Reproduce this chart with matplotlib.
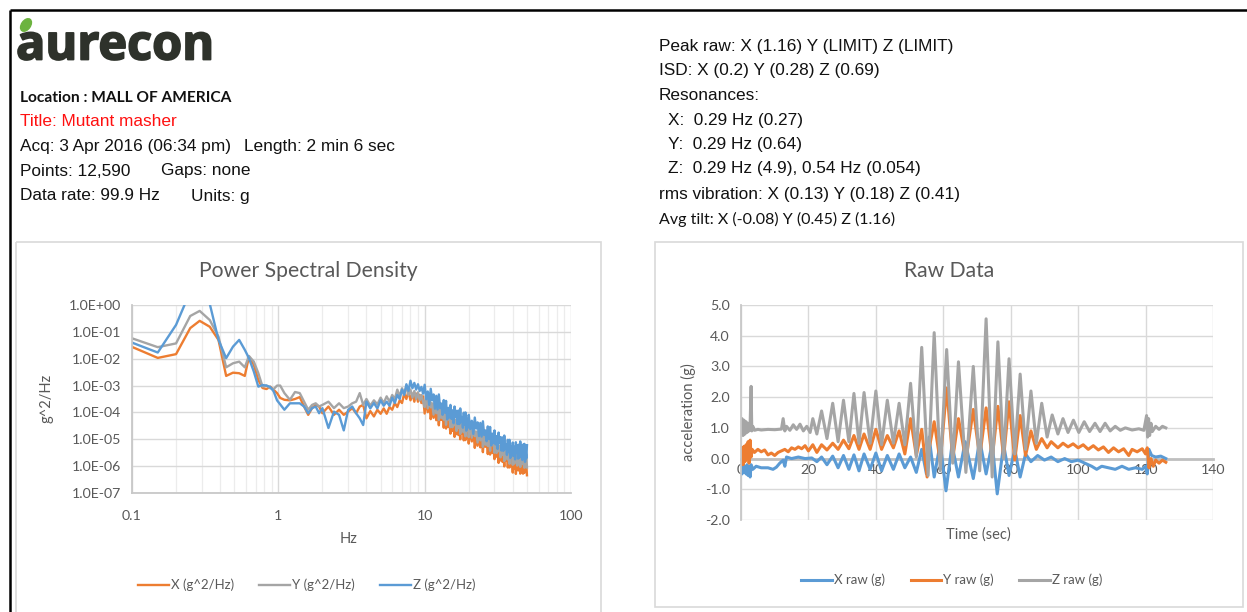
import numpy as np
import matplotlib
matplotlib.use("Agg")
import matplotlib.pyplot as plt
import matplotlib.patheffects as pe
from matplotlib.patches import Rectangle, Ellipse
from matplotlib.ticker import FixedLocator, FixedFormatter, NullFormatter

plt.rcParams['font.family'] = ['Lato', 'DejaVu Sans']
plt.rcParams['axes.unicode_minus'] = False

W, H = 1247, 612

# ---------------- header text ----------------
left_info = ["Location : MALL OF AMERICA", "Title: Mutant masher",
             "Acq: 3 Apr 2016 (06:34 pm)", "Length: 2 min 6 sec",
             "Points: 12,590", "Gaps: none", "Data rate: 99.9 Hz", "Units: g"]
right_info = ["Peak raw: X (1.16) Y (LIMIT) Z (LIMIT)",
              "ISD: X (0.2) Y (0.28) Z (0.69)",
              "Resonances:",
              "X:  0.29 Hz (0.27)",
              "Y:  0.29 Hz (0.64)",
              "Z:  0.29 Hz (4.9), 0.54 Hz (0.054)",
              "rms vibration: X (0.13) Y (0.18) Z (0.41)",
              "Avg tilt: X (-0.08) Y (0.45) Z (1.16)"]

# ---------------- PSD data (values read as log10 exponents) ----------------
psd_freq_low = [0.10, 0.15, 0.20, 0.25, 0.29, 0.34, 0.39, 0.44, 0.49, 0.54, 0.59, 0.63, 0.68, 0.73, 0.78,
                0.83, 0.88, 0.93, 0.98,
                1.03, 1.1, 1.2, 1.3, 1.4, 1.5, 1.6, 1.7, 1.8, 1.9, 2.0, 2.2, 2.4, 2.6, 2.8, 3.0, 3.2, 3.4, 3.6, 3.8,
                4.0, 4.25, 4.5, 4.75, 5.0, 5.25, 5.5, 5.75, 6.0, 6.25, 6.5, 6.75, 7.0, 7.25, 7.5, 7.75, 8.0, 8.25,
                8.5, 8.75, 9.0, 9.25, 9.5, 9.75]
psd_freq_high = [10.0, 10.25, 10.5, 10.75, 11.0, 11.25, 11.5, 11.75, 12.0, 12.25,
                 12.5, 12.75, 13.0, 13.25, 13.5, 13.75, 14.0, 14.25, 14.5, 14.75,
                 15.0, 15.25, 15.5, 15.75, 16.0, 16.25, 16.5, 16.75, 17.0, 17.25,
                 17.5, 17.75, 18.0, 18.25, 18.5, 18.75, 19.0, 19.25, 19.5, 19.75,
                 20.0, 20.5, 21.0, 21.5, 22.0, 22.5, 23.0, 23.5, 24.0, 24.5,
                 25.0, 25.5, 26.0, 26.5, 27.0, 27.5, 28.0, 28.5, 29.0, 29.5,
                 30.0, 30.5, 31.0, 31.5, 32.0, 32.5, 33.0, 33.5, 34.0, 34.5,
                 35.0, 35.5, 36.0, 36.5, 37.0, 37.5, 38.0, 38.5, 39.0, 39.5,
                 40.0, 40.5, 41.0, 41.5, 42.0, 42.5, 43.0, 43.5, 44.0, 44.5,
                 45.0, 45.5, 46.0, 46.5, 47.0, 47.5, 48.0, 48.5, 49.0, 49.5, 50.0]

psd_x_exp_low = [-1.56, -1.97, -1.83, -0.86, -0.59, -0.81, -1.30, -2.64, -2.52, -2.54, -2.64, -1.92, -2.23, -2.79, -3.09,
                 -3.13, -3.04, -3.16, -3.28,
                 -3.46, -3.53, -3.55, -3.50, -3.43, -3.78, -4.09, -3.84, -3.72, -3.78, -4.03, -3.78, -4.09, -3.90, -4.09,
                 -3.97, -3.84, -4.03, -3.78, -3.72,
                 -4.22, -3.95, -4.15, -3.90, -4.05, -3.85, -4.05, -3.80, -3.90, -3.65, -3.80, -3.55, -3.65, -3.30, -3.50,
                 -3.20, -3.55, -3.30, -3.60, -3.30, -3.60, -3.35, -3.65, -3.40]
psd_x_exp_high = [-4.04, -3.50, -3.99, -3.55, -4.25, -3.84, -4.20, -3.75, -4.29, -3.98,
                  -4.48, -3.87, -4.28, -4.06, -4.57, -4.08, -4.60, -4.03, -4.54, -4.38,
                  -4.79, -4.23, -4.69, -4.23, -4.91, -4.47, -4.81, -4.32, -4.84, -4.52,
                  -5.00, -4.38, -4.78, -4.54, -5.04, -4.53, -5.03, -4.45, -4.95, -4.76,
                  -5.16, -4.61, -5.08, -4.63, -5.32, -4.89, -5.24, -4.77, -5.30, -4.99,
                  -5.48, -4.87, -5.28, -5.04, -5.55, -5.06, -5.57, -5.00, -5.50, -5.33,
                  -5.74, -5.18, -5.65, -5.19, -5.88, -5.44, -5.79, -5.31, -5.84, -5.52,
                  -6.01, -5.39, -5.79, -5.55, -6.05, -5.55, -6.05, -5.47, -5.97, -5.79,
                  -6.24, -5.66, -6.10, -5.63, -6.29, -5.83, -6.15, -5.66, -6.16, -5.82,
                  -6.28, -5.65, -6.04, -5.79, -6.28, -5.76, -6.25, -5.66, -6.15, -5.95, -6.34]

psd_y_exp_low = [-1.24, -1.57, -1.43, -0.41, -0.22, -0.56, -1.18, -2.32, -2.17, -2.11, -2.32, -1.90, -2.11, -2.54, -3.04,
                 -3.00, -3.10, -3.13, -3.00,
                 -3.00, -3.28, -3.53, -3.24, -3.28, -3.60, -3.90, -3.72, -3.66, -3.78, -3.72, -3.60, -3.84, -3.66, -3.84,
                 -3.78, -3.66, -3.60, -3.28, -3.72,
                 -3.50, -3.75, -3.55, -3.70, -3.45, -3.65, -3.40, -3.60, -3.35, -3.50, -3.15, -3.40, -3.10, -3.30, -3.05,
                 -3.35, -3.15, -3.45, -3.20, -3.50, -3.25, -3.55, -3.35, -3.60]
psd_y_exp_high = [-3.80, -3.32, -3.85, -3.29, -3.81, -3.66, -4.08, -3.55, -4.03, -3.58,
                  -4.28, -3.85, -4.20, -3.74, -4.27, -3.96, -4.46, -3.85, -4.26, -4.04,
                  -4.55, -4.05, -4.55, -3.97, -4.47, -4.29, -4.69, -4.12, -4.58, -4.12,
                  -4.80, -4.36, -4.70, -4.22, -4.74, -4.41, -4.89, -4.27, -4.67, -4.42,
                  -4.92, -4.43, -4.94, -4.37, -4.88, -4.71, -5.12, -4.57, -5.04, -4.59,
                  -5.28, -4.85, -5.20, -4.72, -5.25, -4.94, -5.43, -4.82, -5.22, -4.99,
                  -5.50, -5.00, -5.51, -4.93, -5.44, -5.26, -5.67, -5.11, -5.58, -5.12,
                  -5.81, -5.37, -5.71, -5.23, -5.75, -5.43, -5.91, -5.29, -5.69, -5.45,
                  -5.95, -5.43, -5.91, -5.32, -5.80, -5.60, -5.98, -5.41, -5.85, -5.37,
                  -6.03, -5.58, -5.91, -5.42, -5.93, -5.59, -6.06, -5.43, -5.82, -5.56, -6.05]

psd_z_exp_low = [-1.40, -1.77, -0.74, 0.50, 0.69, 0.04, -1.30, -1.98, -1.55, -1.30, -1.67, -1.98, -2.48, -3.04, -2.98,
                 -3.00, -3.05, -3.22, -3.55,
                 -3.70, -3.90, -3.66, -3.66, -3.66, -3.78, -4.03, -3.84, -3.78, -4.03, -3.84, -4.58, -3.97, -4.09, -4.67,
                 -3.90, -3.78, -4.03, -4.22, -4.47,
                 -3.60, -3.85, -3.65, -3.85, -3.55, -3.75, -3.60, -3.75, -3.45, -3.65, -3.35, -3.50, -3.15, -3.35, -2.95,
                 -3.20, -2.82, -3.10, -2.90, -3.15, -2.95, -3.20, -3.05, -3.30]
psd_z_exp_high = [-2.97, -3.51, -3.22, -3.72, -3.12, -3.55, -3.33, -3.86, -3.38, -3.89,
                  -3.33, -3.84, -3.67, -4.09, -3.54, -4.01, -3.57, -4.26, -3.83, -4.19,
                  -3.72, -4.24, -3.92, -4.40, -3.78, -4.18, -3.94, -4.43, -3.93, -4.43,
                  -3.85, -4.35, -4.17, -4.57, -4.01, -4.46, -4.00, -4.68, -4.24, -4.57,
                  -4.09, -4.62, -4.31, -4.80, -4.19, -4.60, -4.37, -4.88, -4.39, -4.90,
                  -4.33, -4.84, -4.67, -5.07, -4.52, -4.99, -4.54, -5.23, -4.79, -5.14,
                  -4.67, -5.19, -4.88, -5.36, -4.75, -5.15, -4.92, -5.42, -4.93, -5.43,
                  -4.86, -5.36, -5.18, -5.58, -5.02, -5.48, -5.02, -5.70, -5.26, -5.60,
                  -5.12, -5.62, -5.28, -5.75, -5.11, -5.49, -5.23, -5.72, -5.20, -5.68,
                  -5.08, -5.57, -5.38, -5.77, -5.20, -5.64, -5.17, -5.84, -5.39, -5.71, -5.22]

psd_labels = ["X (g^2/Hz)", "Y (g^2/Hz)", "Z (g^2/Hz)"]
psd_xtick_labels = ["0.1", "1", "10", "100"]
psd_ytick_labels = ["1.0E-07", "1.0E-06", "1.0E-05", "1.0E-04", "1.0E-03", "1.0E-02", "1.0E-01", "1.0E+00"]

# ---------------- Raw data ----------------
t_zraw = [0.0, 0.3, 0.6, 0.9, 1.2, 1.5, 1.8, 2.1, 2.4, 2.7, 3.0, 3.2, 3.5, 4.0, 5.0, 6.0, 8.0, 10.0, 12.0, 12.5, 13.0,
          13.5, 14.5, 15.5, 16.5, 17.5, 18.5, 19.5, 20.5, 21.3, 22.5, 23.9, 25.5, 27.2, 28.8, 30.4, 32.0, 33.5, 35.0,
          36.5, 38.3, 40.0, 41.7, 43.4, 45.2, 46.9, 48.6, 50.3, 52.0, 53.6, 55.5, 57.3, 59.1, 61.0, 62.8, 64.5, 66.7,
          68.9, 70.8, 72.7, 74.5, 76.2, 77.9, 79.5, 81.2, 82.8, 84.4, 86.0, 87.6, 89.2, 90.8, 92.3, 94.0, 95.5, 97.0,
          98.6, 100.2, 101.8, 103.4, 105.0, 106.5, 108.0, 109.5, 111.0, 112.5, 114.0, 116.0, 118.0, 119.5, 120.3, 120.6,
          120.9, 121.2, 121.6, 122.0, 123.0, 124.0, 125.0, 126.0]
z_raw = [1.0, 1.3, 0.75, 1.25, 0.8, 1.2, 0.85, 1.15, 0.9, 1.1, 2.35, 0.9, 1.05, 0.92, 0.95, 0.93, 0.95, 0.94, 0.96, 1.3, 0.9,
         1.05, 0.92, 1.1, 0.95, 1.12, 0.9, 1.05, 0.85, 1.3, 0.8, 1.55, 0.65, 1.8, 0.55, 1.9, 0.55, 2.12, 0.5,
         2.15, 0.5, 2.2, 0.45, 1.9, 0.5, 1.8, 0.45, 2.45, 0.05, 3.62, -0.55, 4.1, -0.4, 3.55, -0.15, 3.15, -0.45,
         3.0, -0.4, 4.55, -0.6, 3.8, 0.0, 3.25, 0.15, 2.75, 0.3, 2.2, 0.5, 1.8, 0.7, 1.42, 0.8, 1.3, 0.85,
         1.25, 0.85, 1.2, 0.88, 1.15, 0.88, 1.15, 0.9, 1.05, 0.92, 1.0, 0.93, 0.97, 0.92, 1.4, 0.7,
         1.3, 0.75, 1.15, 0.88, 1.05, 0.95, 1.05, 1.0]

t_yraw = [0.0, 0.3, 0.6, 0.9, 1.2, 1.5, 1.8, 2.1, 2.4, 2.7, 3.0, 3.3, 4.0, 5.0, 6.0, 7.0, 8.0, 9.0, 10.0, 11.0, 12.0,
          13.0, 14.0, 15.0, 16.0, 17.0, 18.0, 19.0, 20.0, 21.3, 22.5, 23.9, 25.5, 27.2, 28.8, 30.4, 32.0, 33.5, 35.0,
          36.5, 38.3, 40.0, 41.7, 43.4, 45.2, 46.9, 48.6, 50.3, 52.0, 53.6, 55.2, 55.6, 57.3, 59.1, 61.0, 62.8, 64.5,
          66.7, 68.9, 70.8, 72.7, 74.5, 76.2, 77.9, 79.5, 81.2, 82.8, 84.4, 86.0, 87.6, 89.2, 90.8, 92.0, 94.0, 95.5,
          97.0, 98.5, 100.0, 101.5, 103.0, 104.5, 106.0, 107.5, 109.0, 110.5, 112.0, 113.5, 115.0, 116.0, 117.5, 119.0,
          120.0, 120.5, 121.0, 121.6, 122.3, 123.0, 124.0, 125.0, 126.0]
y_raw = [-0.1, 0.35, -0.2, 0.4, -0.1, 0.45, 0.0, 0.55, -0.15, 0.6, 0.05, 0.3, 0.2, 0.3, 0.22, 0.28, 0.12, 0.18, 0.1, 0.2, 0.25,
         0.3, 0.22, 0.35, 0.3, 0.38, 0.32, 0.42, 0.25, 0.45, 0.2, 0.45, 0.28, 0.5, 0.3, 0.6, 0.32, 0.75, 0.3,
         0.8, 0.3, 0.95, 0.3, 0.75, 0.35, 0.9, 0.15, 1.3, 0.1, 0.95, -0.6, 0.2, 1.2, -0.1, 2.3, 0.0, 1.3,
         -0.05, 1.6, 0.05, 1.65, 0.0, 1.7, 0.05, 1.85, -0.05, 1.4, 0.1, 0.9, 0.3, 0.65, 0.35, 0.55, 0.35, 0.5,
         0.38, 0.48, 0.35, 0.45, 0.3, 0.42, 0.28, 0.38, 0.2, 0.35, 0.22, 0.32, 0.1, 0.3, 0.22, 0.32,
         0.15, 0.35, -0.3, 0.0, -0.25, -0.05, -0.15, -0.05, -0.12]

t_xraw = [0.0, 0.3, 0.6, 0.9, 1.2, 1.5, 1.8, 2.1, 2.4, 2.7, 3.0, 3.5, 4.5, 6.0, 8.0, 9.5, 10.5, 11.5, 12.5, 13.0, 13.5,
          15.0, 17.0, 19.0, 21.0, 22.5, 23.9, 25.5, 27.2, 28.8, 30.4, 32.0, 33.5, 35.0, 36.5, 38.3, 40.0, 41.7, 43.4,
          45.2, 46.9, 48.6, 50.3, 52.0, 53.6, 55.0, 55.8, 57.3, 59.1, 60.8, 62.6, 64.5, 66.5, 68.9, 70.8, 72.7, 74.5,
          76.0, 77.9, 79.5, 81.2, 82.8, 84.4, 86.0, 88.0, 90.0, 92.0, 94.0, 96.0, 98.0, 100.0, 102.0, 104.0, 105.5,
          107.0, 109.0, 111.0, 113.0, 115.0, 117.0, 119.0, 120.0, 120.5, 121.0, 121.8, 123.0, 124.5, 126.0]
x_raw = [-0.2, -0.5, -0.1, -0.45, -0.25, -0.5, -0.2, -0.55, -0.25, -0.6, -0.2, -0.35, -0.25, -0.3, -0.3, -0.35, -0.28, -0.15, -0.05, -0.25, 0.05,
         0.0, 0.05, 0.0, 0.02, -0.1, 0.05, -0.2, 0.08, -0.3, 0.1, -0.35, 0.12, -0.4, 0.15, -0.35, 0.18, -0.4, 0.1,
         -0.35, 0.15, -0.3, 0.05, -0.45, 0.3, -0.5, 0.7, -0.6, 0.5, -1.05, 0.45, -0.6, 0.55, -0.65, 0.6, -0.5, 0.5,
         -1.15, 0.45, -0.55, 0.3, -0.6, 0.15, -0.1, 0.1, -0.05, 0.05, -0.1, 0.0, -0.1, -0.05, -0.15, -0.25, -0.35,
         -0.25, -0.3, -0.35, -0.25, -0.35, -0.3, -0.35, -0.25, -0.5, 0.3, 0.1, 0.05, 0.08, 0.0]

raw_labels = ["X raw (g)", "Y raw (g)", "Z raw (g)"]
raw_xticks = [0, 20, 40, 60, 80, 100, 120, 140]
raw_yticks = [-2.0, -1.0, 0.0, 1.0, 2.0, 3.0, 4.0, 5.0]

C_ORANGE = "#ED7D31"
C_GRAY = "#A5A5A5"
C_BLUE = "#5B9BD5"
TXT = "#595959"
GRID = "#d9d9d9"
HDR = "#111111"


def fx(x):
    return x / W


def fy(y):
    return 1 - y / H


fig = plt.figure(figsize=(W / 100, H / 100), dpi=100)
fig.patch.set_facecolor("white")

# overlay axes in pixel coordinates for frame, boxes and logo leaf
ov = fig.add_axes([0, 0, 1, 1], zorder=-5)
ov.set_xlim(0, W)
ov.set_ylim(H, 0)
ov.axis("off")
ov.plot([10, 1247], [10, 10], color="black", lw=1.8, solid_capstyle="butt")
ov.plot([10, 10], [10, 612], color="black", lw=1.8, solid_capstyle="butt")
ov.add_patch(Rectangle((16, 242), 601 - 16, 380, fill=False, edgecolor="#d9d9d9", lw=1.2))
ov.add_patch(Rectangle((655, 242), 1243 - 655, 365, fill=False, edgecolor="#d9d9d9", lw=1.2))
ov.add_patch(Ellipse((26, 25), 9, 14, angle=35, color="#6cb33f"))

# logo
logo_color = "#2e322b"
fig.text(fx(16), fy(47), "aurecon", fontsize=35, fontweight="bold", color=logo_color,
         family=["Open Sans", "DejaVu Sans"], va="center", ha="left",
         path_effects=[pe.withStroke(linewidth=1.3, foreground=logo_color)])

# left info
fs = 12.4
SANS = ["Liberation Sans", "DejaVu Sans"]
fig.text(fx(20), fy(98), left_info[0], fontsize=11.2, fontweight="bold", color=HDR,
         family=["Lato", "DejaVu Sans"], va="center")
fig.text(fx(20), fy(122), left_info[1], fontsize=fs, color="#ff1010", family=SANS, va="center")
fig.text(fx(20), fy(146), left_info[2], fontsize=fs, color=HDR, family=SANS, va="center")
fig.text(fx(244), fy(146), left_info[3], fontsize=fs, color=HDR, family=SANS, va="center")
fig.text(fx(20), fy(171), left_info[4], fontsize=fs, color=HDR, family=SANS, va="center")
fig.text(fx(161), fy(171), left_info[5], fontsize=fs, color=HDR, family=SANS, va="center")
fig.text(fx(20), fy(196), left_info[6], fontsize=fs, color=HDR, family=SANS, va="center")
fig.text(fx(191), fy(196), left_info[7], fontsize=fs, color=HDR, family=SANS, va="center")

# right info
ry = [46, 70, 95, 120, 144, 169, 194, 219]
rx = [659, 659, 659, 668, 668, 668, 659, 659]
for i, s in enumerate(right_info):
    if i == 7:
        fig.text(fx(rx[i]), fy(ry[i]), s, fontsize=11.5, color=HDR,
                 family=["Lato", "DejaVu Sans"], va="center")
    else:
        fig.text(fx(rx[i]), fy(ry[i]), s, fontsize=fs, color=HDR, family=SANS, va="center")

# ---------------- PSD axes ----------------
ax1 = fig.add_axes([fx(132), fy(493), fx(571) - fx(132), fy(305) - fy(493)])
f = np.array(psd_freq_low + psd_freq_high)
for exps, col, lab in [(psd_x_exp_low + psd_x_exp_high, C_ORANGE, psd_labels[0]),
                       (psd_y_exp_low + psd_y_exp_high, C_GRAY, psd_labels[1]),
                       (psd_z_exp_low + psd_z_exp_high, C_BLUE, psd_labels[2])]:
    ax1.plot(f, 10.0 ** np.array(exps), color=col, lw=1.7, label=lab, solid_joinstyle="round")
ax1.set_xscale("log")
ax1.set_yscale("log")
ax1.set_xlim(0.1, 100)
ax1.set_ylim(1e-7, 1)
ax1.xaxis.set_major_locator(FixedLocator([0.1, 1, 10, 100]))
ax1.xaxis.set_major_formatter(FixedFormatter(psd_xtick_labels))
minor = [m * d for d in [0.1, 1, 10] for m in range(2, 10)]
ax1.xaxis.set_minor_locator(FixedLocator(minor))
ax1.xaxis.set_minor_formatter(NullFormatter())
ax1.yaxis.set_major_locator(FixedLocator([1e-7, 1e-6, 1e-5, 1e-4, 1e-3, 1e-2, 1e-1, 1]))
ax1.yaxis.set_major_formatter(FixedFormatter(psd_ytick_labels))
ax1.yaxis.set_minor_locator(FixedLocator([]))
ax1.grid(which="major", color=GRID, lw=1.0)
ax1.grid(which="minor", axis="x", color="#ececec", lw=0.9)
ax1.set_axisbelow(True)
for s in ["top", "right"]:
    ax1.spines[s].set_visible(False)
for s in ["left", "bottom"]:
    ax1.spines[s].set_color("#c8c8c8")
    ax1.spines[s].set_linewidth(1.3)
ax1.tick_params(which="both", length=0, labelsize=10.2, labelcolor=TXT)
ax1.tick_params(axis="x", pad=12)
ax1.tick_params(axis="y", pad=8)
fig.text(fx(349), fy(539), "Hz", fontsize=10.5, color=TXT, ha="center", va="center")
fig.text(fx(47), fy(398), "g^2/Hz", fontsize=10.5, color=TXT, ha="center", va="center", rotation=90)
fig.text(fx(308), fy(271), "Power Spectral Density", fontsize=15.2, color=TXT, ha="center", va="center")
leg1 = ax1.legend(loc="center", bbox_to_anchor=(fx(307), fy(585)),
                  bbox_transform=fig.transFigure, ncol=3, frameon=False,
                  fontsize=9.5, handlelength=2.3, handletextpad=0.2, columnspacing=1.9)
for t in leg1.get_texts():
    t.set_color(TXT)

# ---------------- Raw axes ----------------
ax2 = fig.add_axes([fx(741), fy(520), fx(1213) - fx(741), fy(305) - fy(520)])
ax2.plot(t_xraw, x_raw, color=C_BLUE, lw=2.2, label=raw_labels[0])
ax2.plot(t_yraw, y_raw, color=C_ORANGE, lw=2.2, label=raw_labels[1])
ax2.plot(t_zraw, z_raw, color=C_GRAY, lw=2.2, label=raw_labels[2])
ax2.set_xlim(0, 140)
ax2.set_ylim(-2, 5)
ax2.set_xticks(raw_xticks)
ax2.set_xticklabels([str(v) for v in raw_xticks])
ax2.set_yticks(raw_yticks)
ax2.set_yticklabels(["%.1f" % v for v in raw_yticks])
ax2.grid(True, color=GRID, lw=1.0)
ax2.set_axisbelow(True)
for s in ["top", "right"]:
    ax2.spines[s].set_visible(False)
ax2.spines["bottom"].set_position(("data", 0))
ax2.spines["bottom"].set_color("#bfbfbf")
ax2.spines["bottom"].set_linewidth(2.0)
ax2.spines["bottom"].set_zorder(1.5)
ax2.spines["left"].set_color("#c8c8c8")
ax2.spines["left"].set_linewidth(1.3)
ax2.tick_params(length=0, labelsize=10.2, labelcolor=TXT)
ax2.tick_params(axis="x", pad=4)
ax2.tick_params(axis="y", pad=8)
fig.text(fx(688), fy(412), "acceleration (g)", fontsize=10.5, color=TXT, ha="center", va="center", rotation=90)
fig.text(fx(978), fy(535), "Time (sec)", fontsize=10.5, color=TXT, ha="center", va="center")
fig.text(fx(949), fy(271), "Raw Data", fontsize=15.2, color=TXT, ha="center", va="center")
leg2 = ax2.legend(loc="center", bbox_to_anchor=(fx(952), fy(580)),
                  bbox_transform=fig.transFigure, ncol=3, frameon=False,
                  fontsize=9.5, handlelength=2.3, handletextpad=0.2, columnspacing=1.9)
for t in leg2.get_texts():
    t.set_color(TXT)

fig.savefig("out.png", dpi=100, facecolor="white")
